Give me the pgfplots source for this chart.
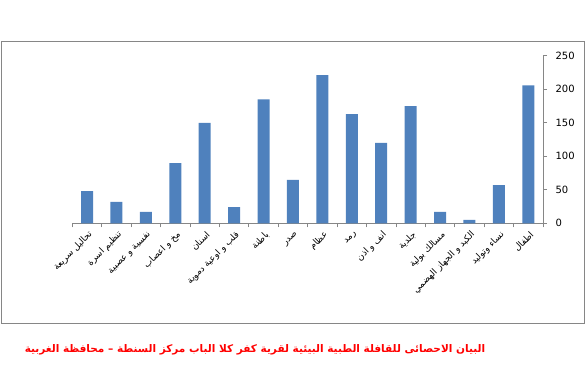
\documentclass[border=0pt]{standalone}
\usepackage{pgfplots}
\pgfplotsset{compat=1.18}
\usepackage{fontspec}
\setmainfont{DejaVu Sans}
\newfontfamily\arabicfont[Script=Arabic]{DejaVu Sans}
\TeXXeTstate=1
\definecolor{barblue}{HTML}{4F81BD}
\definecolor{axgray}{HTML}{868686}
\begin{document}
\begin{tikzpicture}
\useasboundingbox (0pt,0pt) rectangle (586pt,-369pt);
\draw[axgray, line width=0.8pt] (1pt,-41pt) rectangle (584pt,-323pt);
\begin{axis}[
  at={(72.3pt,-223.3pt)}, anchor=south west,
  scale only axis, width=470.7pt, height=167.5pt,
  ymin=0, ymax=250, xmin=0.5, xmax=16.5,
  axis x line*=bottom, axis y line*=right,
  ytick={0,50,...,250},
  xtick={1,...,16},
  minor xtick={0.5,1.5,...,16.5},
  major x tick style={draw=none},
  minor x tick style={draw=axgray, line width=0.8pt},
  y tick style={draw=axgray, line width=0.8pt},
  tick align=outside,
  major tick length=4pt, minor tick length=4pt,
  axis line style={axgray, line width=0.8pt},
  ybar, bar width=12pt,
  /pgf/number format/assume math mode=true,
  yticklabel style={font=\fontsize{10}{12}\selectfont, text=black, xshift=5pt},
  xticklabel style={rotate=45, anchor=east, font=\arabicfont\fontsize{9}{11}\selectfont, yshift=-7pt, xshift=2pt},
  xticklabels={{\beginR تحاليل سريعة\endR},{\beginR تنظيم اسرة\endR},{\beginR نفسية و عصبية\endR},{\beginR مخ و اعصاب\endR},{\beginR اسنان\endR},{\beginR قلب و اوعية دموية\endR},{\beginR باطنة\endR},{\beginR صدر\endR},{\beginR عظام\endR},{\beginR رمد\endR},{\beginR انف و اذن\endR},{\beginR جلدية\endR},{\beginR مسالك بولية\endR},{\beginR الكبد و الجهاز الهضمي\endR},{\beginR نساء وتوليد\endR},{\beginR اطفال\endR}},
]
\addplot[fill=barblue, draw=none] coordinates {
(1,48) (2,32) (3,17) (4,90) (5,150) (6,24) (7,185) (8,65)
(9,221) (10,163) (11,120) (12,175) (13,17) (14,5) (15,57) (16,206)};
\end{axis}
\node[text=red, font=\arabicfont\bfseries\fontsize{10.5}{13}\selectfont] at (255pt,-350pt) {\beginR البيان الاحصائى للقافلة الطبية البيئية لقرية كفر كلا الباب مركز السنطة \textendash{} محافظة الغربية\endR};
\end{tikzpicture}
\end{document}
